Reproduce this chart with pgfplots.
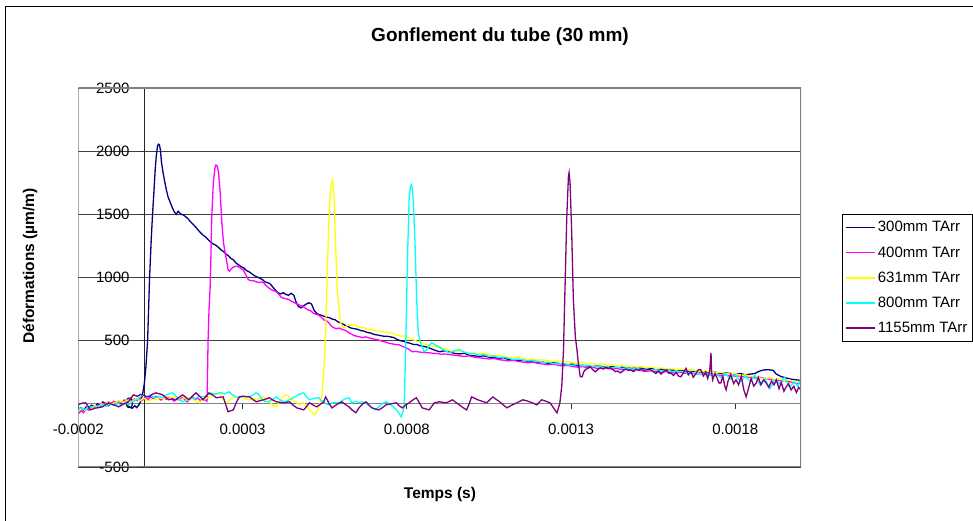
\documentclass[border=0pt]{standalone}
\usepackage{pgfplots}
\pgfplotsset{compat=1.18}
\usepackage{fontspec}
\setmainfont{Liberation Sans}
\definecolor{cnavy}{RGB}{0,0,128}
\definecolor{cmag}{RGB}{255,0,255}
\definecolor{cyel}{RGB}{255,255,0}
\definecolor{ccyan}{RGB}{0,255,255}
\definecolor{cpurp}{RGB}{128,0,128}
\begin{document}
\begin{tikzpicture}
\useasboundingbox (0pt,0pt) rectangle (973pt,521pt);
\fill[white] (0pt,0pt) rectangle (973pt,521pt);
\draw[black, line width=1pt] (5pt,-20pt) rectangle (1000pt,514pt);
\begin{axis}[
  at={(78.3pt,54pt)}, anchor=south west,
  width=722.7pt, height=379pt, scale only axis,
  xmin=-200, xmax=2000, ymin=-500, ymax=2500,
  axis x line=middle, axis y line=middle, axis line style={-},
  x axis line style={draw=gray, line width=1.2pt},
  y axis line style={draw=black!85, line width=1pt},
  hide obscured y ticks=false, hide obscured x ticks=false,
  xtick={-200,300,800,1300,1800},
  xticklabels={-0.0002,0.0003,0.0008,0.0013,0.0018},
  ytick={-500,0,500,1000,1500,2000,2500},
  yticklabels={-500,{},500,1000,1500,2000,2500},
  tick align=outside, major tick length=5pt,
  tick style={black!80, line width=0.8pt},
  ymajorgrids, grid style={black!75, line width=0.9pt},
  tick label style={font=\fontsize{15}{18}\selectfont},
  xticklabel style={yshift=-12pt},
  yticklabel style={xshift=-6pt},
  legend cell align=left,
  legend style={at={(axis description cs:1.0567,0.6675)}, anchor=north west,
    draw=black, line width=0.8pt, font=\fontsize{15}{18}\selectfont,
    row sep=9.2pt, inner xsep=3pt, inner ysep=5pt},
  legend image code/.code={\draw[#1, line width=1.5pt] (0pt,0pt) -- (29pt,0pt);},
  every axis plot/.append style={line width=1.3pt},
]
\node[anchor=east, font=\fontsize{15}{18}\selectfont, inner sep=0pt] at ([xshift=-10pt]axis cs:0,0) {0};
\addplot[cnavy] coordinates {
(-200,-45)(-192,-30)(-185,-50)(-176,-25)(-168,-35)(-160,-10)(-150,-25)(-142,0)(-133,-10)(-125,15)(-116,0)(-108,-15)(-100,5)(-92,-10)(-84,15)(-76,5)(-68,-5)(-60,10)(-52,-5)(-44,-25)(-36,-35)(-28,-15)(-22,-30)(-16,-10)(-10,20)(-4,80)(1,160)(6,300)(11,500)(17,1000)(22,1300)(26,1500)(30,1670)(34,1850)(37,1950)(41,2040)(44,2055)(47,2050)(50,2010)(53,1917)(58,1830)(63,1760)(68,1695)(73,1640)(79,1600)(85,1560)(92,1520)(98,1500)(104,1525)(109,1510)(114,1500)(120,1495)(127,1480)(134,1465)(142,1440)(150,1420)(157,1400)(164,1378)(172,1355)(180,1335)(188,1320)(195,1300)(203,1280)(211,1265)(219,1255)(226,1240)(234,1220)(242,1205)(250,1185)(258,1170)(265,1150)(272,1140)(280,1115)(288,1100)(296,1085)(304,1075)(312,1055)(320,1045)(328,1030)(336,1015)(344,1005)(352,995)(360,985)(368,965)(376,960)(384,950)(392,925)(400,900)(408,880)(416,870)(424,880)(432,865)(440,860)(448,875)(456,860)(463,805)(470,770)(478,760)(486,775)(494,790)(502,800)(510,790)(518,740)(526,715)(534,705)(542,700)(550,690)(558,685)(566,680)(574,670)(582,665)(590,650)(598,640)(606,630)(614,620)(622,610)(630,600)(640,595)(650,590)(660,580)(670,575)(680,565)(690,560)(700,550)(710,545)(720,540)(730,535)(740,535)(750,530)(760,525)(770,510)(780,500)(790,495)(800,485)(810,480)(820,470)(830,470)(840,460)(850,455)(860,450)(870,440)(880,430)(890,420)(900,412)(915,420)(930,410)(945,400)(960,395)(975,400)(990,385)(1005,380)(1020,375)(1035,380)(1050,370)(1065,365)(1080,360)(1095,365)(1110,350)(1125,345)(1140,340)(1155,345)(1170,335)(1185,330)(1200,325)(1215,330)(1230,320)(1245,325)(1260,320)(1275,315)(1290,310)(1305,315)(1320,300)(1335,305)(1350,300)(1365,295)(1380,300)(1395,295)(1410,290)(1425,295)(1440,285)(1455,290)(1470,285)(1485,280)(1500,285)(1515,280)(1530,275)(1545,280)(1560,270)(1575,275)(1590,270)(1605,265)(1620,270)(1635,265)(1650,260)(1665,255)(1680,260)(1695,250)(1710,255)(1725,245)(1740,250)(1755,240)(1770,245)(1785,240)(1800,235)(1815,240)(1830,230)(1845,235)(1860,240)(1870,255)(1885,268)(1900,270)(1915,265)(1925,235)(1940,215)(1955,205)(1970,195)(1985,190)(2000,185)
};
\addlegendentry{300mm TArr}
\addplot[cmag] coordinates {
(-200,-80)(-192,-55)(-184,-70)(-176,-40)(-168,-50)(-160,-25)(-150,-35)(-142,-10)(-133,-20)(-124,5)(-116,-5)(-108,15)(-100,0)(-92,20)(-84,5)(-76,25)(-68,10)(-60,30)(-52,15)(-44,35)(-36,20)(-28,40)(-20,25)(-12,45)(-4,30)(4,50)(12,35)(20,55)(28,40)(36,60)(44,45)(52,30)(60,50)(68,35)(76,55)(84,40)(92,20)(100,40)(108,30)(116,50)(124,35)(132,15)(140,40)(148,55)(156,35)(164,45)(172,25)(180,40)(186,30)(192,20)(195,500)(198,750)(201,900)(204,1200)(206,1457)(211,1750)(216,1870)(219,1890)(222,1885)(225,1860)(227,1830)(232,1670)(237,1433)(242,1275)(247,1196)(252,1125)(256,1061)(260,1050)(265,1065)(270,1080)(275,1085)(281,1090)(287,1085)(294,1075)(302,1061)(310,1020)(318,982)(326,975)(334,974)(342,966)(350,960)(357,965)(364,958)(372,935)(379,919)(387,905)(395,895)(403,887)(411,865)(419,840)(427,835)(435,830)(442,824)(450,810)(458,800)(466,790)(474,780)(482,775)(490,760)(498,745)(506,740)(514,720)(522,710)(530,705)(538,690)(547,665)(555,660)(563,640)(571,615)(578,602)(586,595)(594,600)(602,590)(609,586)(617,575)(625,560)(633,550)(640,540)(648,535)(656,530)(665,525)(675,530)(685,523)(695,515)(705,510)(715,505)(725,495)(735,490)(745,480)(755,475)(765,470)(777,467)(787,455)(797,445)(807,430)(817,412)(827,415)(837,410)(847,408)(857,405)(868,404)(880,400)(892,398)(905,392)(918,395)(929,390)(945,385)(960,380)(975,375)(990,380)(1005,370)(1020,365)(1035,360)(1050,355)(1065,360)(1080,350)(1095,345)(1110,340)(1125,345)(1140,335)(1155,330)(1170,325)(1185,330)(1200,320)(1215,315)(1230,310)(1245,315)(1260,305)(1275,300)(1290,305)(1305,295)(1320,290)(1335,295)(1350,285)(1365,290)(1380,280)(1395,285)(1410,280)(1425,275)(1440,280)(1455,270)(1470,275)(1485,265)(1500,270)(1515,262)(1530,258)(1545,262)(1560,255)(1575,250)(1590,255)(1605,248)(1620,245)(1635,250)(1650,240)(1665,245)(1680,238)(1695,232)(1710,235)(1725,228)(1740,232)(1755,225)(1770,230)(1785,222)(1800,218)(1815,222)(1830,215)(1845,210)(1860,205)(1875,210)(1890,200)(1905,195)(1920,190)(1935,185)(1950,180)(1965,175)(1980,165)(2000,160)
};
\addlegendentry{400mm TArr}
\addplot[cyel] coordinates {
(-200,-55)(-190,-35)(-180,-50)(-170,-25)(-160,-40)(-150,-15)(-140,-25)(-130,0)(-120,-10)(-110,15)(-100,0)(-87,8)(-75,25)(-62,10)(-50,30)(-38,15)(-25,40)(-12,25)(0,45)(12,20)(24,35)(36,32)(48,50)(60,40)(72,60)(84,45)(97,55)(110,30)(122,50)(134,25)(146,40)(158,20)(168,8)(178,30)(188,40)(198,55)(208,70)(218,80)(229,87)(240,40)(250,8)(261,30)(272,55)(284,45)(296,60)(308,40)(321,32)(333,45)(345,30)(356,50)(364,55)(374,35)(384,10)(392,-10)(403,-24)(413,20)(423,55)(434,71)(444,50)(455,25)(465,8)(475,-5)(485,10)(495,-20)(504,-48)(512,-70)(520,-87)(528,-50)(535,0)(541,55)(547,250)(552,483)(557,950)(562,1402)(568,1695)(573,1774)(576,1740)(578,1671)(583,1275)(588,927)(593,768)(598,641)(604,615)(609,602)(616,615)(624,626)(632,620)(640,630)(647,615)(654,610)(662,600)(670,605)(678,590)(685,586)(693,595)(700,580)(708,575)(715,570)(723,575)(730,565)(738,570)(745,560)(752,562)(760,555)(768,545)(776,540)(784,535)(792,540)(800,528)(807,523)(815,510)(822,505)(830,495)(838,491)(846,485)(853,475)(860,470)(868,467)(876,460)(884,455)(892,450)(899,444)(910,435)(920,440)(930,420)(945,412)(960,420)(975,410)(990,405)(1005,400)(1020,395)(1035,400)(1050,390)(1065,380)(1080,385)(1095,375)(1110,370)(1125,365)(1140,370)(1155,360)(1170,350)(1185,355)(1200,345)(1215,350)(1230,340)(1245,335)(1260,340)(1275,330)(1290,335)(1305,325)(1320,320)(1335,330)(1350,315)(1365,320)(1380,310)(1395,318)(1410,305)(1425,310)(1440,300)(1455,305)(1470,295)(1485,300)(1500,290)(1515,296)(1530,285)(1545,290)(1560,280)(1575,285)(1590,275)(1605,282)(1620,270)(1635,276)(1650,265)(1665,272)(1680,260)(1695,255)(1710,262)(1725,250)(1740,245)(1755,250)(1770,240)(1785,235)(1800,240)(1815,225)(1830,230)(1845,215)(1860,220)(1875,205)(1890,195)(1905,210)(1920,190)(1935,200)(1950,180)(1965,190)(1980,170)(2000,175)
};
\addlegendentry{631mm TArr}
\addplot[ccyan] coordinates {
(-200,-45)(-190,-30)(-180,-45)(-169,-32)(-158,-20)(-148,-35)(-137,-15)(-126,-8)(-115,-20)(-104,0)(-92,-15)(-80,5)(-68,-10)(-57,10)(-47,-8)(-36,15)(-25,30)(-14,50)(-4,71)(8,55)(20,70)(32,45)(45,60)(57,48)(68,70)(78,80)(88,87)(98,60)(108,35)(118,16)(130,30)(142,50)(155,40)(168,60)(180,55)(193,70)(206,85)(219,75)(232,90)(245,80)(259,95)(270,70)(280,55)(290,48)(300,60)(311,55)(321,55)(332,70)(341,87)(348,80)(358,40)(368,20)(379,16)(391,35)(403,55)(415,30)(428,16)(441,30)(455,48)(465,65)(476,80)(486,87)(495,55)(504,32)(513,40)(520,45)(532,48)(540,25)(547,16)(555,0)(562,-8)(570,5)(580,10)(593,8)(603,25)(613,40)(624,48)(633,8)(643,20)(653,10)(663,16)(675,5)(685,-15)(696,-35)(706,-48)(716,-20)(727,5)(737,16)(747,0)(755,-15)(762,-32)(770,-50)(777,-80)(783,-103)(788,-60)(792,-24)(797,483)(802,1140)(807,1616)(811,1720)(814,1734)(817,1700)(820,1592)(825,1275)(830,824)(835,562)(841,491)(847,450)(853,412)(860,425)(868,460)(875,483)(882,475)(890,460)(899,451)(908,435)(918,420)(929,404)(940,415)(950,425)(960,428)(975,410)(990,395)(1005,400)(1020,385)(1035,390)(1050,375)(1065,380)(1080,365)(1095,370)(1110,360)(1125,350)(1140,355)(1155,345)(1170,340)(1185,345)(1200,335)(1215,325)(1230,330)(1245,320)(1260,315)(1275,320)(1290,310)(1305,305)(1320,312)(1335,300)(1350,305)(1365,295)(1380,300)(1395,290)(1410,295)(1425,285)(1440,290)(1455,280)(1470,286)(1485,275)(1500,282)(1515,270)(1530,276)(1545,265)(1560,272)(1575,262)(1590,268)(1605,258)(1620,250)(1635,258)(1650,245)(1665,252)(1680,240)(1695,232)(1710,245)(1725,225)(1740,235)(1755,210)(1770,240)(1785,195)(1800,230)(1815,175)(1830,220)(1845,180)(1860,225)(1875,150)(1890,200)(1905,120)(1920,190)(1935,160)(1950,210)(1965,130)(1980,175)(1990,140)(2000,200)
};
\addlegendentry{800mm TArr}
\addplot[cpurp] coordinates {
(-200,-8)(-190,5)(-178,8)(-170,-20)(-163,-48)(-150,-35)(-138,-30)(-126,-24)(-117,-5)(-108,8)(-95,-5)(-85,-15)(-77,-24)(-65,-5)(-56,5)(-47,16)(-40,45)(-32,71)(-20,60)(-10,75)(-4,71)(5,60)(14,55)(25,75)(36,87)(46,80)(57,71)(66,50)(76,32)(86,40)(97,32)(108,55)(118,71)(128,50)(137,32)(147,60)(158,87)(169,60)(180,32)(189,60)(198,87)(209,70)(220,48)(230,52)(241,55)(248,0)(256,-63)(264,-55)(272,-48)(281,10)(290,55)(300,60)(310,58)(321,55)(331,35)(342,16)(353,25)(364,32)(373,40)(382,48)(392,30)(403,16)(414,12)(425,8)(434,12)(443,16)(454,-10)(465,-32)(476,-40)(486,-48)(495,-20)(504,8)(515,-10)(526,-24)(536,-5)(547,16)(553,55)(562,10)(572,-32)(587,-5)(602,16)(613,-5)(624,-24)(634,-50)(645,-71)(655,-30)(666,0)(676,16)(685,-10)(694,-32)(704,-40)(715,-48)(726,-30)(737,-8)(752,0)(768,8)(777,-15)(786,-32)(796,-10)(807,8)(818,30)(829,48)(838,10)(847,-32)(857,-40)(868,-48)(876,-20)(884,8)(892,12)(899,16)(910,12)(920,8)(930,20)(939,32)(950,10)(960,-8)(971,-30)(982,-48)(990,0)(997,55)(1006,45)(1016,32)(1030,20)(1043,8)(1052,30)(1062,55)(1072,35)(1083,16)(1094,-10)(1105,-32)(1120,-10)(1135,8)(1144,20)(1153,32)(1164,25)(1174,16)(1185,5)(1196,-8)(1204,15)(1211,32)(1224,20)(1236,8)(1246,-30)(1257,-71)(1262,-30)(1266,8)(1272,150)(1277,428)(1282,958)(1287,1481)(1292,1798)(1294,1830)(1297,1750)(1302,1354)(1307,824)(1313,531)(1318,428)(1322,325)(1328,214)(1334,214)(1338,250)(1343,269)(1350,280)(1359,293)(1366,270)(1374,253)(1381,270)(1389,285)(1398,275)(1405,290)(1412,280)(1420,285)(1428,270)(1435,255)(1442,260)(1450,245)(1458,260)(1466,275)(1474,265)(1481,269)(1490,255)(1498,275)(1506,265)(1514,280)(1522,260)(1530,270)(1542,269)(1550,255)(1558,240)(1566,260)(1574,235)(1582,255)(1590,270)(1598,240)(1604,245)(1612,225)(1620,250)(1627,220)(1634,214)(1642,245)(1650,280)(1657,230)(1665,253)(1672,210)(1680,240)(1688,270)(1695,269)(1703,220)(1710,250)(1716,200)(1722,260)(1726,404)(1728,250)(1731,190)(1738,240)(1745,200)(1750,166)(1756,166)(1762,220)(1768,140)(1772,111)(1778,180)(1786,230)(1795,160)(1802,190)(1810,150)(1818,220)(1826,110)(1833,55)(1840,120)(1848,200)(1856,140)(1864,166)(1870,210)(1878,150)(1886,190)(1894,166)(1902,130)(1910,180)(1918,150)(1925,190)(1933,120)(1940,170)(1948,100)(1955,135)(1962,160)(1970,110)(1978,140)(1986,90)(1993,130)(2000,110)
};
\addlegendentry{1155mm TArr}
\draw[gray, line width=1.2pt] (rel axis cs:0,0) rectangle (rel axis cs:1,1);
\end{axis}
\node[font=\bfseries\fontsize{19}{22}\selectfont] at (500pt,484pt) {Gonflement du tube (30 mm)};
\node[font=\bfseries\fontsize{15.5}{18}\selectfont] at (440pt,27pt) {Temps (s)};
\node[rotate=90, font=\bfseries\fontsize{15.5}{18}\selectfont] at (30pt,255pt) {Déformations (µm/m)};
\end{tikzpicture}
\end{document}
